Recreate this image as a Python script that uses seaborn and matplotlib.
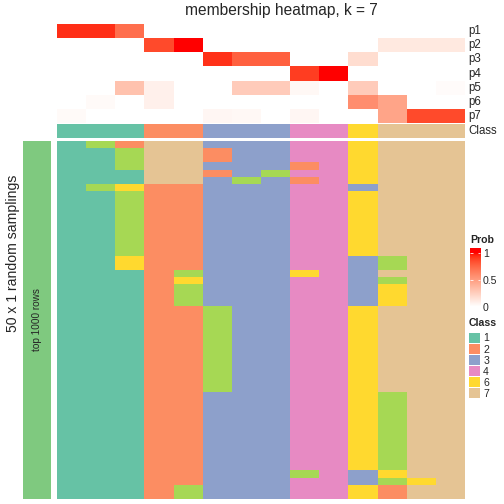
import numpy as np
import pandas as pd
import matplotlib
matplotlib.use("Agg")
import matplotlib.pyplot as plt
from matplotlib.colors import ListedColormap, Normalize
from matplotlib.patches import Patch
import seaborn as sns

sns.set_style("white")
plt.rcParams['font.family'] = ['Liberation Sans', 'DejaVu Sans']

# ---------------- data ----------------
samples = [f"s{i+1}" for i in range(14)]
prob_rows = ["p1", "p2", "p3", "p4", "p5", "p6", "p7"]
p1 = [0.94, 0.94, 0.72, 0, 0, 0, 0, 0, 0, 0, 0, 0, 0, 0]
p2 = [0, 0, 0, 0.86, 1.0, 0, 0, 0, 0, 0, 0, 0.12, 0.12, 0.12]
p3 = [0, 0, 0, 0, 0, 0.93, 0.78, 0.78, 0, 0, 0.18, 0, 0, 0]
p4 = [0, 0, 0, 0, 0, 0, 0, 0, 0.9, 1.0, 0, 0, 0, 0]
p5 = [0, 0, 0.32, 0.08, 0, 0, 0.27, 0.27, 0.04, 0, 0.27, 0, 0, 0.02]
p6 = [0, 0.03, 0, 0.08, 0, 0, 0, 0, 0, 0, 0.58, 0.47, 0, 0]
p7 = [0.03, 0, 0, 0, 0, 0.05, 0.04, 0, 0.05, 0, 0, 0.47, 0.86, 0.86]
sample_class = [1, 1, 1, 2, 2, 3, 3, 3, 4, 4, 6, 7, 7, 7]

# 50 random samplings (rows) x 14 samples: predicted class
r0 = [1, 5, 2, 7, 7, 3, 3, 3, 4, 4, 6, 7, 7, 7]
r1 = [1, 1, 5, 7, 7, 2, 3, 3, 4, 4, 6, 7, 7, 7]
r3 = [1, 1, 5, 7, 7, 3, 3, 3, 2, 4, 6, 7, 7, 7]
r4 = [1, 1, 1, 7, 7, 2, 3, 5, 4, 4, 6, 7, 7, 7]
r5 = [1, 1, 1, 7, 7, 3, 5, 3, 2, 4, 6, 7, 7, 7]
r6 = [1, 5, 6, 2, 2, 3, 3, 3, 4, 4, 3, 7, 7, 7]
r7 = [1, 1, 5, 2, 2, 3, 3, 3, 4, 4, 6, 7, 7, 7]
r16 = [1, 1, 6, 2, 2, 3, 3, 3, 4, 4, 3, 5, 7, 7]
r18 = [1, 1, 1, 2, 5, 3, 3, 3, 6, 4, 3, 7, 7, 7]
r19 = [1, 1, 1, 2, 6, 3, 3, 3, 4, 4, 3, 5, 7, 7]
r20 = [1, 1, 1, 2, 5, 3, 3, 3, 4, 4, 3, 6, 7, 7]
r23 = [1, 1, 1, 2, 2, 5, 3, 3, 4, 4, 6, 7, 7, 7]
r35 = [1, 1, 1, 2, 2, 3, 3, 3, 4, 4, 6, 5, 7, 7]
r46 = [1, 1, 1, 2, 2, 3, 3, 3, 5, 4, 3, 6, 7, 7]
r47 = [1, 1, 1, 2, 2, 3, 3, 3, 4, 4, 3, 5, 6, 7]
r48 = [1, 1, 1, 2, 5, 3, 3, 3, 4, 4, 6, 2, 7, 7]
sampling_rows = ([r0] + [r1] * 2 + [r3, r4, r5, r6] + [r7] * 9 + [r16] * 2 +
                 [r18, r19] + [r20] * 3 + [r23] * 12 + [r35] * 11 +
                 [r46, r47] + [r48] * 2)

legend_classes = [1, 2, 3, 4, 6, 7]
class_colors = ["#66C2A5", "#FC8D62", "#8DA0CB", "#E78AC3",
                "#A6D854", "#FFD92F", "#E5C494"]

# ---------------- colour ramp white -> red in LAB ----------------
def _s2l(c):
    c = np.asarray(c, float)
    return np.where(c <= 0.04045, c / 12.92, ((c + 0.055) / 1.055) ** 2.4)

def _l2s(c):
    c = np.clip(c, 0, None)
    return np.where(c <= 0.0031308, 12.92 * c, 1.055 * c ** (1 / 2.4) - 0.055)

_M = np.array([[0.4124, 0.3576, 0.1805], [0.2126, 0.7152, 0.0722], [0.0193, 0.1192, 0.9505]])
_WN = np.array([0.95047, 1.0, 1.08883])
_d = 6 / 29

def to_lab(rgb):
    xyz = _M @ _s2l(rgb) / _WN
    f = np.where(xyz > _d ** 3, np.cbrt(xyz), xyz / (3 * _d ** 2) + 4 / 29)
    return np.array([116 * f[1] - 16, 500 * (f[0] - f[1]), 200 * (f[1] - f[2])])

def from_lab(lab):
    L, a, b = lab
    fy = (L + 16) / 116
    fx = fy + a / 500
    fz = fy - b / 200
    f = np.array([fx, fy, fz])
    xyz = np.where(f > _d, f ** 3, 3 * _d ** 2 * (f - 4 / 29)) * _WN
    rgb = np.linalg.solve(_M, xyz)
    return np.clip(_l2s(rgb), 0, 1)

lw, lr = to_lab([1, 1, 1]), to_lab([1, 0, 0])
prob_cmap = ListedColormap([from_lab(lw + t * (lr - lw)) for t in np.linspace(0, 1, 256)])
class_cmap = ListedColormap(class_colors)

prob_df = pd.DataFrame([p1, p2, p3, p4, p5, p6, p7], index=prob_rows, columns=samples)
class_df = pd.DataFrame([sample_class], index=["Class"], columns=samples)
samp_df = pd.DataFrame(sampling_rows, columns=samples)

# ---------------- layout ----------------
W = H = 504
fig = plt.figure(figsize=(7, 7), dpi=72)

def rect(l, t, r, b):
    return [l / W, 1 - b / H, (r - l) / W, (b - t) / H]

ax_p = fig.add_axes(rect(57, 24, 465, 123))
ax_c = fig.add_axes(rect(57, 124, 465, 138))
ax_m = fig.add_axes(rect(57, 141, 465, 499))
ax_l = fig.add_axes(rect(23, 141, 51, 499))
cax = fig.add_axes(rect(470, 248, 480, 310))

sns.heatmap(prob_df, ax=ax_p, cmap=prob_cmap, vmin=0, vmax=1, cbar=False,
            xticklabels=False, yticklabels=False, linewidths=0)
sns.heatmap(class_df, ax=ax_c, cmap=class_cmap, vmin=0.5, vmax=7.5, cbar=False,
            xticklabels=False, yticklabels=False, linewidths=0)
sns.heatmap(samp_df, ax=ax_m, cmap=class_cmap, vmin=0.5, vmax=7.5, cbar=False,
            xticklabels=False, yticklabels=False, linewidths=0)
sns.heatmap(pd.DataFrame({"g": [1]}), ax=ax_l, cmap=ListedColormap(["#7FC97F"]),
            cbar=False, xticklabels=False, yticklabels=False)
for a in (ax_p, ax_c, ax_m, ax_l):
    a.set_xlabel("")
    a.set_ylabel("")

for i, name in enumerate(prob_rows):
    ax_p.text(14.1, i + 0.5, name, ha="left", va="center", fontsize=11.5)
ax_c.text(14.1, 0.5, "Class", ha="left", va="center", fontsize=11.5)

ax_l.text(0.5, 0.5, "top 1000 rows", rotation=90, ha="center", va="center",
          fontsize=10, transform=ax_l.transAxes)

fig.text(281 / W, 1 - 10 / H, "membership heatmap, k = 7", ha="center", va="center",
         fontsize=15.5)
fig.text(13 / W, 1 - 253 / H, "50 x 1 random samplings", rotation=90,
         ha="center", va="center", fontsize=14)

# Prob colour bar
grad = np.linspace(-0.06, 1.09, 256)[:, None]
cax.imshow(grad, cmap=prob_cmap, norm=Normalize(0, 1), aspect="auto",
           origin="lower", extent=[0, 1, -0.06, 1.09])
cax.set_xlim(0, 1)
cax.set_ylim(-0.06, 1.09)
cax.set_xticks([])
cax.set_yticks([0, 0.5, 1])
cax.set_yticklabels(["0", "0.5", "1"], fontsize=10.5)
cax.yaxis.tick_right()
cax.tick_params(axis="y", which="both", direction="in", length=2.5, width=0.8,
                color="white", left=True, right=True, labelleft=False,
                labelright=True, pad=3)
for s in cax.spines.values():
    s.set_visible(False)
fig.text(470 / W, 1 - 240 / H, "Prob", fontweight="bold", fontsize=10.5,
         ha="left", va="center")

# Class legend
handles = [Patch(facecolor=class_colors[c - 1], edgecolor="none") for c in legend_classes]
leg = fig.legend(handles, [str(c) for c in legend_classes], title="Class",
                 loc="upper left", bbox_to_anchor=(469 / W, 1 - 318 / H),
                 frameon=False, fontsize=10.5, handlelength=1.05, handleheight=1.05,
                 labelspacing=0.06, handletextpad=0.3, borderpad=0,
                 borderaxespad=0, alignment="left",
                 title_fontproperties={"weight": "bold", "size": 10.5})
leg._legend_box.sep = 5

fig.savefig("out.png", dpi=72)
